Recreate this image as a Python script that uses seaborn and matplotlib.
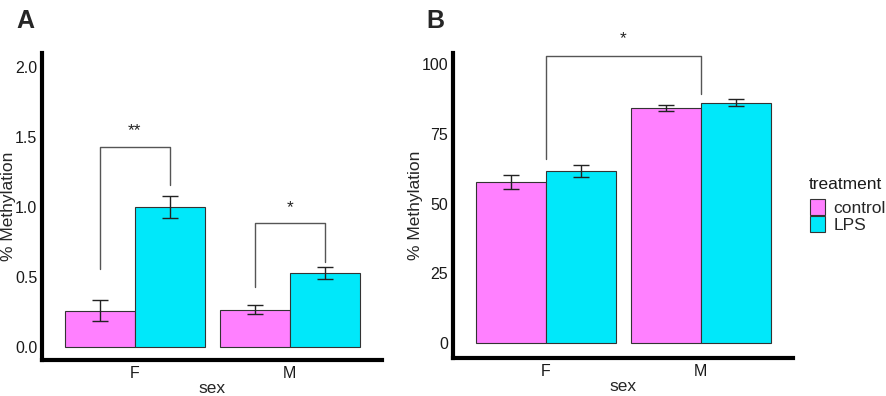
import matplotlib
matplotlib.use("Agg")
import matplotlib.pyplot as plt
import matplotlib.patches as mpatches
import pandas as pd
import seaborn as sns

# data
sexes = ["F", "M"]
treatments = ["control", "LPS"]
colors = ["#FF80FF", "#00E8FA"]

a_control = [0.26, 0.27]
a_control_err = [0.075, 0.035]
a_lps = [1.00, 0.53]
a_lps_err = [0.08, 0.045]

b_control = [57.6, 84.3]
b_control_err = [2.5, 1.1]
b_lps = [61.7, 86.2]
b_lps_err = [2.0, 1.2]

# significance brackets: (bar1, bar2, height, leg1 end, leg2 end, label)
a_brackets = [(("F", "control"), ("F", "LPS"), 1.43, 0.56, 1.16, "**"),
              (("M", "control"), ("M", "LPS"), 0.885, 0.43, 0.61, "*")]
b_brackets = [("F", "M", 103.0, 65.9, 89.2, "*")]

sns.set_style("white")
plt.rcParams["font.family"] = ["Liberation Sans", "DejaVu Sans"]


def make_df(ctrl, ctrl_err, lps, lps_err):
    rows = []
    for i, s in enumerate(sexes):
        rows.append({"sex": s, "treatment": "control", "value": ctrl[i], "err": ctrl_err[i]})
        rows.append({"sex": s, "treatment": "LPS", "value": lps[i], "err": lps_err[i]})
    return pd.DataFrame(rows)


def draw_panel(ax, df, ylim, yticks, ytick_labels, ylab_x):
    sns.barplot(data=df, x="sex", y="value", hue="treatment", order=sexes,
                hue_order=treatments, palette=colors, width=0.9, errorbar=None,
                edgecolor="#333333", linewidth=0.8, saturation=1, ax=ax, legend=False)
    centers = {}
    for t, cont in zip(treatments, ax.containers):
        for s, bar in zip(sexes, cont):
            cx = bar.get_x() + bar.get_width() / 2
            row = df[(df.sex == s) & (df.treatment == t)].iloc[0]
            centers[(s, t)] = cx
            ax.errorbar(cx, row.value, yerr=row.err, color="#222222", lw=1,
                        capsize=5.5, capthick=1, zorder=5)
    ax.set_xlim(-0.6, 1.594)
    ax.set_ylim(*ylim)
    ax.set_yticks(yticks)
    ax.set_yticklabels(ytick_labels)
    for sp in ["top", "right"]:
        ax.spines[sp].set_visible(False)
    for sp in ["left", "bottom"]:
        ax.spines[sp].set_linewidth(3)
        ax.spines[sp].set_color("black")
    ax.tick_params(axis="both", length=3, width=0.8, color="#333333",
                   labelsize=11.5, labelcolor="#1a1a1a", pad=1)
    ax.tick_params(axis="y", pad=0.5)
    ax.set_xlabel("sex", fontsize=12.5, labelpad=0)
    ax.set_ylabel("% Methylation", fontsize=12.5)
    ax.yaxis.set_label_coords(ylab_x, 0.5)
    return centers


def bracket(ax, x1, x2, h, e1, e2, label, ypad):
    ax.plot([x1, x1, x2, x2], [e1, h, h, e2], color="#555555", lw=1, clip_on=False)
    ax.text((x1 + x2) / 2, h + ypad, label, ha="center", va="bottom",
            fontsize=12.5, color="#222222", clip_on=False)


fig = plt.figure(figsize=(8.86, 3.96), dpi=100)
ax_a = fig.add_axes([0.0474, 0.0909, 0.3837, 0.775])
ax_b = fig.add_axes([0.5113, 0.096, 0.3837, 0.770])

df_a = make_df(a_control, a_control_err, a_lps, a_lps_err)
c_a = draw_panel(ax_a, df_a, (-0.09, 2.1), [0, 0.5, 1.0, 1.5, 2.0],
                 ["0.0", "0.5", "1.0", "1.5", "2.0"], -0.077)
for b1, b2, h, e1, e2, lab in a_brackets:
    bracket(ax_a, c_a[b1], c_a[b2], h, e1, e2, lab, 0.06)

df_b = make_df(b_control, b_control_err, b_lps, b_lps_err)
draw_panel(ax_b, df_b, (-5.4, 104), [0, 25, 50, 75, 100],
           ["0", "25", "50", "75", "100"], -0.088)
for s1, s2, h, e1, e2, lab in b_brackets:
    bracket(ax_b, sexes.index(s1), sexes.index(s2), h, e1, e2, lab, 3.5)

handles = [mpatches.Patch(facecolor=c, edgecolor="#333333", linewidth=0.8, label=t)
           for c, t in zip(colors, treatments)]
fig.legend(handles=handles, loc="upper left",
           bbox_to_anchor=(0.914, 0.497), frameon=False, fontsize=12.5,
           handlelength=0.9, handleheight=1.05,
           handletextpad=0.45, labelspacing=0.0, borderpad=0.0, borderaxespad=0.0)
fig.text(0.913, 1 - 185 / 396, "treatment", fontsize=12.5, va="center", ha="left",
         color="#1a1a1a")

fig.text(0.019, 1 - 28 / 396, "A", fontsize=18, fontweight="bold", va="baseline", ha="left")
fig.text(0.481, 1 - 28 / 396, "B", fontsize=18, fontweight="bold", va="baseline", ha="left")

fig.savefig("out.png", dpi=100)
